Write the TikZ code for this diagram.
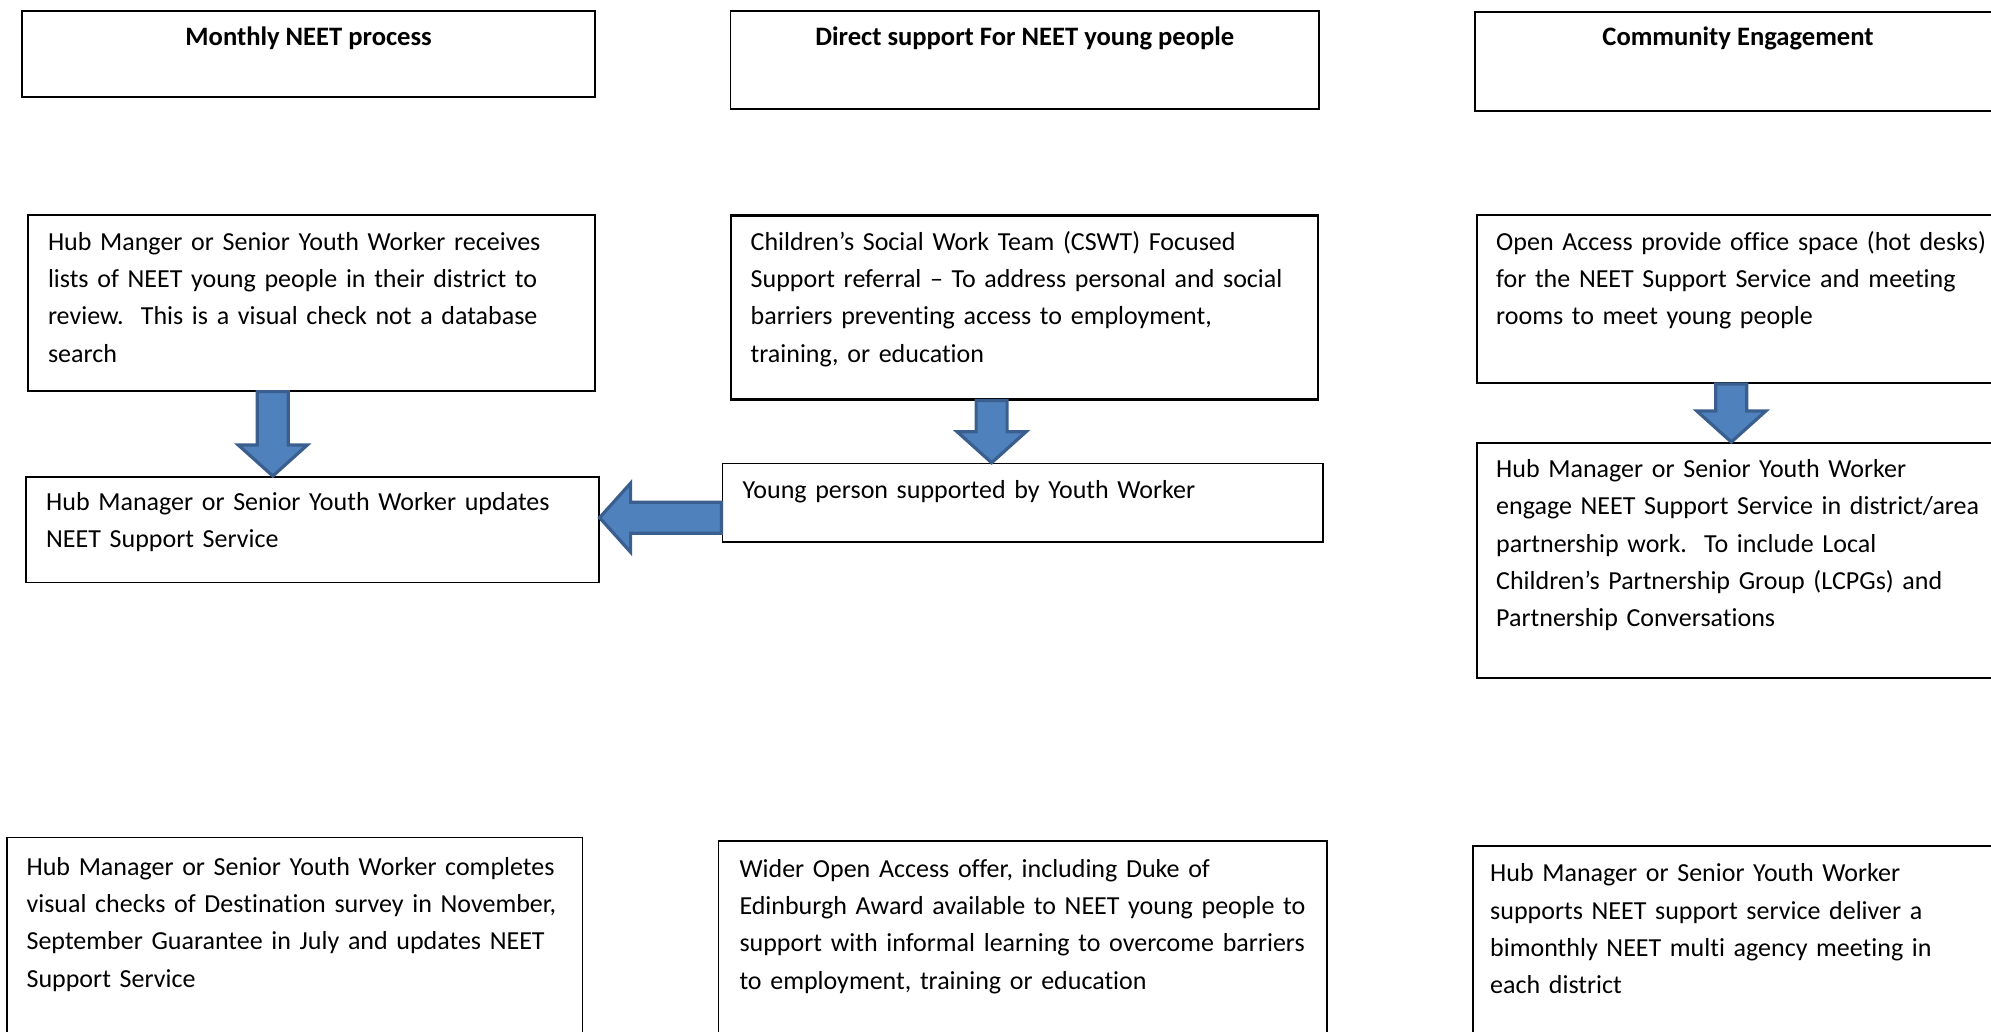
\documentclass[tikz,border=0pt]{standalone}
\usepackage{fontspec}
\setmainfont{Carlito}[Ligatures=NoCommon]
\usetikzlibrary{calc}

\definecolor{arrowfill}{HTML}{4F81BD}
\definecolor{arrowline}{HTML}{3A5F8F}

% block arrow geometry
\def\bashaft{15.5pt}
\def\bawide{34.5pt}
\def\bahead{31pt}

% block arrow from a tail coordinate (#1) to a tip coordinate (#2)
\newcommand\blockarrow[2]{%
  \coordinate (bahd) at ($(#2)!\bahead!(#1)$);
  \path[blockarrowstyle]
    ($(#1)!\bashaft!90:(#2)$) -- ($(bahd)!\bashaft!90:(#2)$) --
    ($(bahd)!\bawide!90:(#2)$) -- (#2) --
    ($(bahd)!\bawide!-90:(#2)$) -- ($(bahd)!\bashaft!-90:(#2)$) --
    ($(#1)!\bashaft!-90:(#2)$) -- cycle;
}

\tikzset{
  box/.style={draw=black, fill=white, line width=1.6pt, inner sep=0pt,
              anchor=north west},
  heavybox/.style={box, line width=2.2pt},
  title/.style={font=\fontsize{26.6}{37.4}\selectfont\bfseries, inner sep=0pt,
                anchor=base},
  txt/.style={font=\fontsize{26}{37.4}\selectfont, inner sep=0pt,
              anchor=base west, align=left, text width=700pt},
  blockarrowstyle/.style={fill=arrowfill, draw=arrowline, line width=3.2pt,
                          line join=miter},
}

\begin{document}
\begin{tikzpicture}[x=1pt, y=-1pt]
  \useasboundingbox (0,0) rectangle (1991,1031);
  \clip (0,0) rectangle (1991,1031);

  % column headings
  \node[heavybox, minimum width=573pt, minimum height=85.7pt] (H1) at (21,10) {};
  \node[box, minimum width=588.8pt, minimum height=98pt] (H2) at (729.6,10) {};
  \node[heavybox, minimum width=560pt, minimum height=99.3pt] (H3) at (1474,10.7) {};
  \node[title] (H1t) at ([yshift=-35pt]H1.north) {Monthly NEET process};
  \node[title] (H2t) at ([yshift=-35pt]H2.north) {Direct support For NEET young people};
  \node[title] (H3t) at ([xshift=264pt, yshift=-34.3pt]H3.north west) {Community Engagement};

  % first row
  \node[box, minimum width=566.8pt, minimum height=176pt] (B1) at (27.2,214) {};
  \node[heavybox, minimum width=587pt, minimum height=184pt] (B2) at (730,214.3) {};
  \node[box, minimum width=560pt, minimum height=168pt] (B3) at (1476,214.3) {};
  \node[txt] (B1t) at ([xshift=20.6pt, yshift=-36pt]B1.north west)
    {Hub Manger or Senior Youth Worker receives\\
     lists of NEET young people in their district to\\
     review.\ \ This is a visual check not a database\\
     search};
  \node[txt] (B2t) at ([xshift=20.5pt, yshift=-35.7pt]B2.north west)
    {Children’s Social Work Team (CSWT) Focused\\
     Support referral – To address personal and social\\
     barriers preventing access to employment,\\
     training, or education};
  \node[txt] (B3t) at ([xshift=20pt, yshift=-35.7pt]B3.north west)
    {Open Access provide office space (hot desks)\\
     for the NEET Support Service and meeting\\
     rooms to meet young people};

  % second row
  \node[box, minimum width=572.6pt, minimum height=105.7pt] (B4) at (25.4,476) {};
  \node[box, minimum width=600.5pt, minimum height=78.3pt] (B5) at (721.5,462.7) {};
  \node[heavybox, minimum width=560pt, minimum height=234.7pt] (B6) at (1476,442) {};
  \node[txt] (B4t) at ([xshift=20.6pt, yshift=-34pt]B4.north west)
    {Hub Manager or Senior Youth Worker updates\\
     NEET Support Service};
  \node[txt] (B5t) at ([xshift=21pt, yshift=-35.6pt]B5.north west)
    {Young person supported by Youth Worker};
  \node[txt] (B6t) at ([xshift=20pt, yshift=-35.3pt]B6.north west)
    {Hub Manager or Senior Youth Worker\\
     engage NEET Support Service in district/area\\
     partnership work.\ \ To include Local\\
     Children’s Partnership Group (LCPGs) and\\
     Partnership Conversations};

  % third row (runs off the lower edge)
  \node[box, minimum width=575.2pt, minimum height=250pt] (B7) at (6.4,836.7) {};
  \node[box, minimum width=608.5pt, minimum height=250pt] (B8) at (717.5,840) {};
  \node[box, minimum width=560pt, minimum height=250pt] (B9) at (1472,845) {};
  \node[txt] (B7t) at ([xshift=20pt, yshift=-38.3pt]B7.north west)
    {Hub Manager or Senior Youth Worker completes\\
     visual checks of Destination survey in November,\\
     September Guarantee in July and updates NEET\\
     Support Service};
  \node[txt] (B8t) at ([xshift=21.8pt, yshift=-37pt]B8.north west)
    {Wider Open Access offer, including Duke of\\
     Edinburgh Award available to NEET young people to\\
     support with informal learning to overcome barriers\\
     to employment, training or education};
  \node[txt] (B9t) at ([xshift=18pt, yshift=-36.7pt]B9.north west)
    {Hub Manager or Senior Youth Worker\\
     supports NEET support service deliver a\\
     bimonthly NEET multi agency meeting in\\
     each district};

  % block arrows between the boxes
  \coordinate (a1s) at ([xshift=-38.6pt]B1.south);
  \coordinate (a1e) at (a1s |- B4.north);
  \blockarrow{a1s}{a1e}

  \coordinate (a2s) at ([xshift=-33pt]B2.south);
  \coordinate (a2e) at (a2s |- B5.north);
  \blockarrow{a2s}{a2e}

  \coordinate (a3s) at ([xshift=-25.5pt]B3.south);
  \coordinate (a3e) at (a3s |- B6.north);
  \blockarrow{a3s}{a3e}

  \coordinate (a4s) at ([yshift=-15pt]B5.west);
  \coordinate (a4e) at (a4s -| B4.east);
  \blockarrow{a4s}{a4e}
\end{tikzpicture}
\end{document}
